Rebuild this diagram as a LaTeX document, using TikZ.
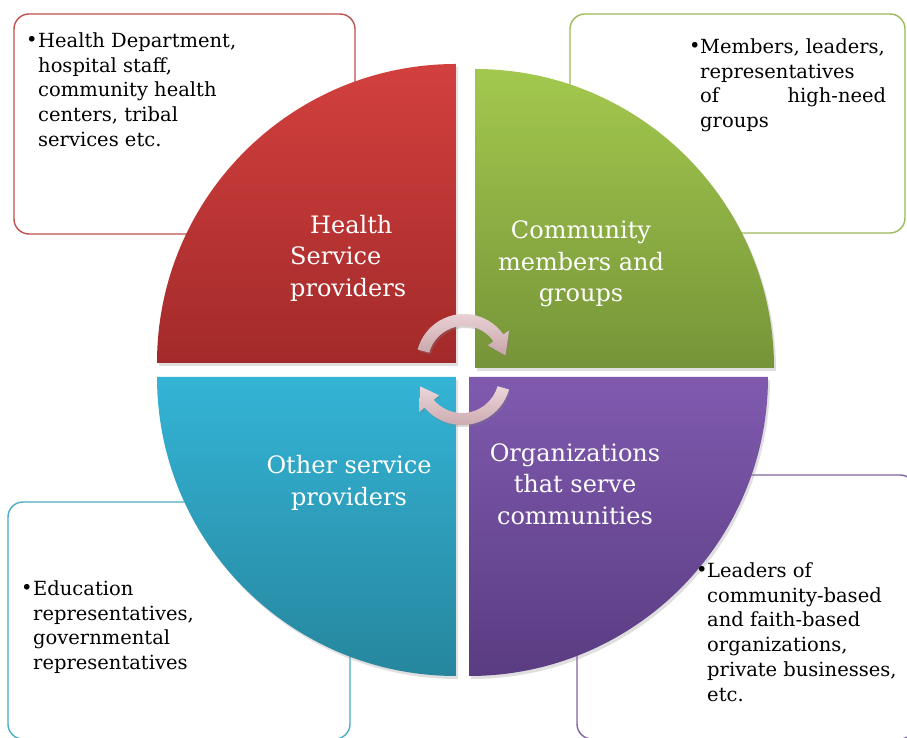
\documentclass[tikz,border=0pt]{standalone}
\usepackage{fontspec}
\setmainfont{DejaVu Serif}
\usetikzlibrary{calc,shadows}
\definecolor{redS}{RGB}{192,80,77}
\definecolor{greenS}{RGB}{155,187,89}
\definecolor{blueS}{RGB}{75,172,198}
\definecolor{purpleS}{RGB}{128,100,162}
\definecolor{redT}{RGB}{210,64,62}
\definecolor{redB}{RGB}{163,42,42}
\definecolor{greenT}{RGB}{163,200,78}
\definecolor{greenB}{RGB}{118,148,56}
\definecolor{blueT}{RGB}{52,180,214}
\definecolor{blueB}{RGB}{38,134,158}
\definecolor{purpleT}{RGB}{128,90,175}
\definecolor{purpleB}{RGB}{90,60,130}
\definecolor{arrT}{RGB}{236,214,217}
\definecolor{arrB}{RGB}{200,165,171}
\begin{document}
\begin{tikzpicture}[x=1pt,y=1pt,
  box/.style={rectangle, rounded corners=15pt, line width=1.4pt, fill=white, inner sep=0pt},
  quad/.style={drop shadow={shadow xshift=2pt,shadow yshift=-3pt,opacity=0.25}},
  bigtxt/.style={text=white, font=\fontsize{24}{31.5}\selectfont, align=center, inner sep=0pt},
  smalltxt/.style={text=black, font=\fontsize{19.5}{24.8}\selectfont, align=left, inner sep=0pt, anchor=north west},
  bul/.style={text=black, font=\fontsize{19.5}{24.8}\selectfont, inner sep=0pt, anchor=base west},
  cyc/.style={top color=arrT, bottom color=arrB, drop shadow={shadow xshift=1.5pt,shadow yshift=-2pt,opacity=0.3}}
]
\useasboundingbox (0,0) rectangle (907,738);
\clip (0,0) rectangle (907,738);
\fill[white] (0,0) rectangle (907,738);

% outer boxes
\node[box, draw=redS, minimum width=341pt, minimum height=220pt] (b1) at (184.5,614) {};
\node[box, draw=greenS, minimum width=335pt, minimum height=219pt] (b2) at (737.5,614.5) {};
\node[box, draw=blueS, minimum width=342pt, minimum height=237pt] (b3) at (179,117.5) {};
\node[box, draw=purpleS, minimum width=338pt, minimum height=264pt] (b4) at (746,131) {};

% quadrants
\path[quad, top color=redT, bottom color=redB]
  (456,375) -- ++(-299,0) arc[start angle=180,end angle=90,radius=299] -- cycle;
\path[quad, top color=greenT, bottom color=greenB]
  (475,370) -- ++(0,299) arc[start angle=90,end angle=0,radius=299] -- cycle;
\path[quad, top color=blueT, bottom color=blueB]
  (456,361) -- ++(-299,0) arc[start angle=180,end angle=270,radius=299] -- cycle;
\path[quad, top color=purpleT, bottom color=purpleB]
  (469,361) -- ++(299,0) arc[start angle=0,end angle=-90,radius=299] -- cycle;

% circular arrows
\coordinate (ca) at (464,376);
\coordinate (cb) at (462,362);
\path[cyc] ($(ca)+(165:48)$) arc[start angle=165,end angle=35,radius=48]
  -- ($(ca)+(35:55)$) -- ($(ca)+(9:42)$) -- ($(ca)+(35:29)$) -- ($(ca)+(35:36)$)
  arc[start angle=35,end angle=165,radius=36] -- cycle;
\path[cyc] ($(cb)+(-16:49)$) arc[start angle=-16,end angle=-140,radius=49]
  -- ($(cb)+(-140:56)$) -- ($(cb)+(-166:43)$) -- ($(cb)+(-140:30)$) -- ($(cb)+(-140:37)$)
  arc[start angle=-140,end angle=-16,radius=37] -- cycle;

% quadrant labels
\node[bigtxt, align=left, anchor=west] (t1) at (290,480) {\hspace*{20pt}Health\\Service\\providers};
\node[bigtxt] (t2) at (581,474) {Community\\members and\\groups};
\node[bigtxt] (t3) at (349,255) {Other service\\providers};
\node[bigtxt] (t4) at (575,254) {Organizations\\that serve\\communities};

% box texts
\node[bul] (p1) at (26,691) {•};
\node[smalltxt] (s1) at (38,705.8) {Health Department,\\hospital staff,\\community health\\centers, tribal\\services etc.};
\node[bul] (p2) at (689,685) {•};
\node[smalltxt] (s2) at (700,699.8) {Members, leaders,\\representatives\\\hbox to 186pt{of\hfill high-need}\\groups};
\node[bul] (p3) at (21,143) {•};
\node[smalltxt] (s3) at (33,157.8) {Education\\representatives,\\governmental\\representatives};
\node[bul] (p4) at (696,161) {•};
\node[smalltxt] (s4) at (707,175.8) {Leaders of\\community-based\\and faith-based\\organizations,\\private businesses,\\etc.};
\end{tikzpicture}
\end{document}
